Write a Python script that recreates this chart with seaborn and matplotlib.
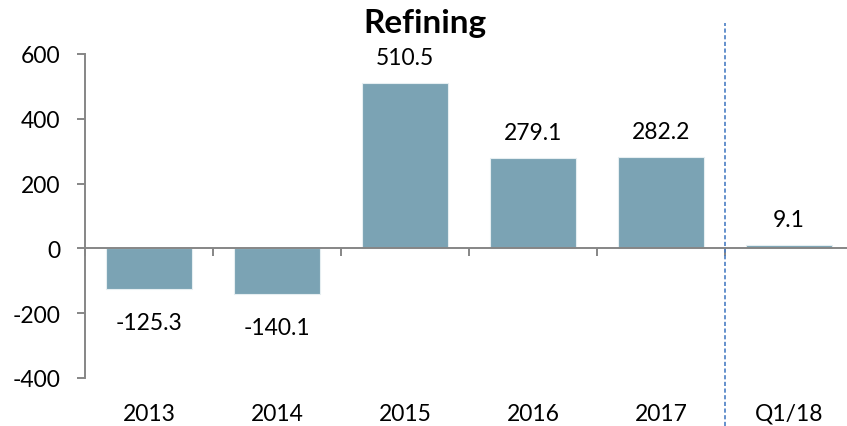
import numpy as np
import pandas as pd
import matplotlib
matplotlib.use("Agg")
import matplotlib.pyplot as plt
import seaborn as sns

# chart data
categories = ["2013", "2014", "2015", "2016", "2017", "Q1/18"]
values = [-125.3, -140.1, 510.5, 279.1, 282.2, 9.1]
y_ticks = [-400, -200, 0, 200, 400, 600]

BAR_COLOR = "#7BA3B4"
AXIS_COLOR = "#868686"
DASH_COLOR = "#4A7EC4"

sns.set_style("white")
plt.rcParams["font.family"] = ["Lato", "DejaVu Sans"]
plt.rcParams["text.color"] = "black"
plt.rcParams["xtick.labelcolor"] = "black"
plt.rcParams["ytick.labelcolor"] = "black"

df = pd.DataFrame({"period": categories, "value": values})

fig = plt.figure(figsize=(8.47, 4.27), dpi=100)
ax = fig.add_axes([85 / 847, 48 / 427, 768 / 847, 324 / 427])

sns.barplot(data=df, x="period", y="value", color=BAR_COLOR, saturation=1,
            width=0.67, edgecolor="#E6EEF1", linewidth=0.8, ax=ax)

ax.set_ylim(-400, 600)
ax.set_xlim(-0.5, len(categories) - 0.5)
ax.set_yticks(y_ticks)
ax.set_yticklabels([str(t) for t in y_ticks], fontsize=16.5)
ax.set_xlabel("")
ax.set_ylabel("")

# spines: left axis + zero line
for side in ["top", "right"]:
    ax.spines[side].set_visible(False)
ax.spines["left"].set_color(AXIS_COLOR)
ax.spines["left"].set_linewidth(1.4)
ax.spines["bottom"].set_position(("data", 0))
ax.spines["bottom"].set_color(AXIS_COLOR)
ax.spines["bottom"].set_linewidth(1.4)

ax.tick_params(axis="y", direction="out", length=6, width=1.4, color=AXIS_COLOR,
               pad=12, left=True)
# category labels sit at the bottom, boundary ticks hang off the zero line
ax.tick_params(axis="x", which="major", length=0, pad=111, labelsize=16.5)
ax.set_xticks(np.arange(-0.5, len(categories) - 0.5, 1.0), minor=True)
ax.tick_params(axis="x", which="minor", direction="out", length=6, width=1.4,
               color=AXIS_COLOR, bottom=True)

# value labels
for i, v in enumerate(values):
    if v >= 0:
        ax.annotate(f"{v:.1f}", (i, v), xytext=(0, 14), textcoords="offset points",
                    ha="center", va="baseline", fontsize=16.5)
    else:
        ax.annotate(f"{v:.1f}", (i, v), xytext=(0, -29), textcoords="offset points",
                    ha="center", va="baseline", fontsize=16.5)

# separator between annual and quarterly figures
ax.axvline(len(categories) - 1.5, ymin=-0.148, ymax=1.096, clip_on=False,
           color=DASH_COLOR, linestyle=(0, (2.5, 1.5)), linewidth=1.2)

fig.text(425 / 847, 1 - 24 / 427, "Refining", ha="center", va="center",
         fontsize=24, fontweight="bold")

fig.savefig("out.png", dpi=100)
